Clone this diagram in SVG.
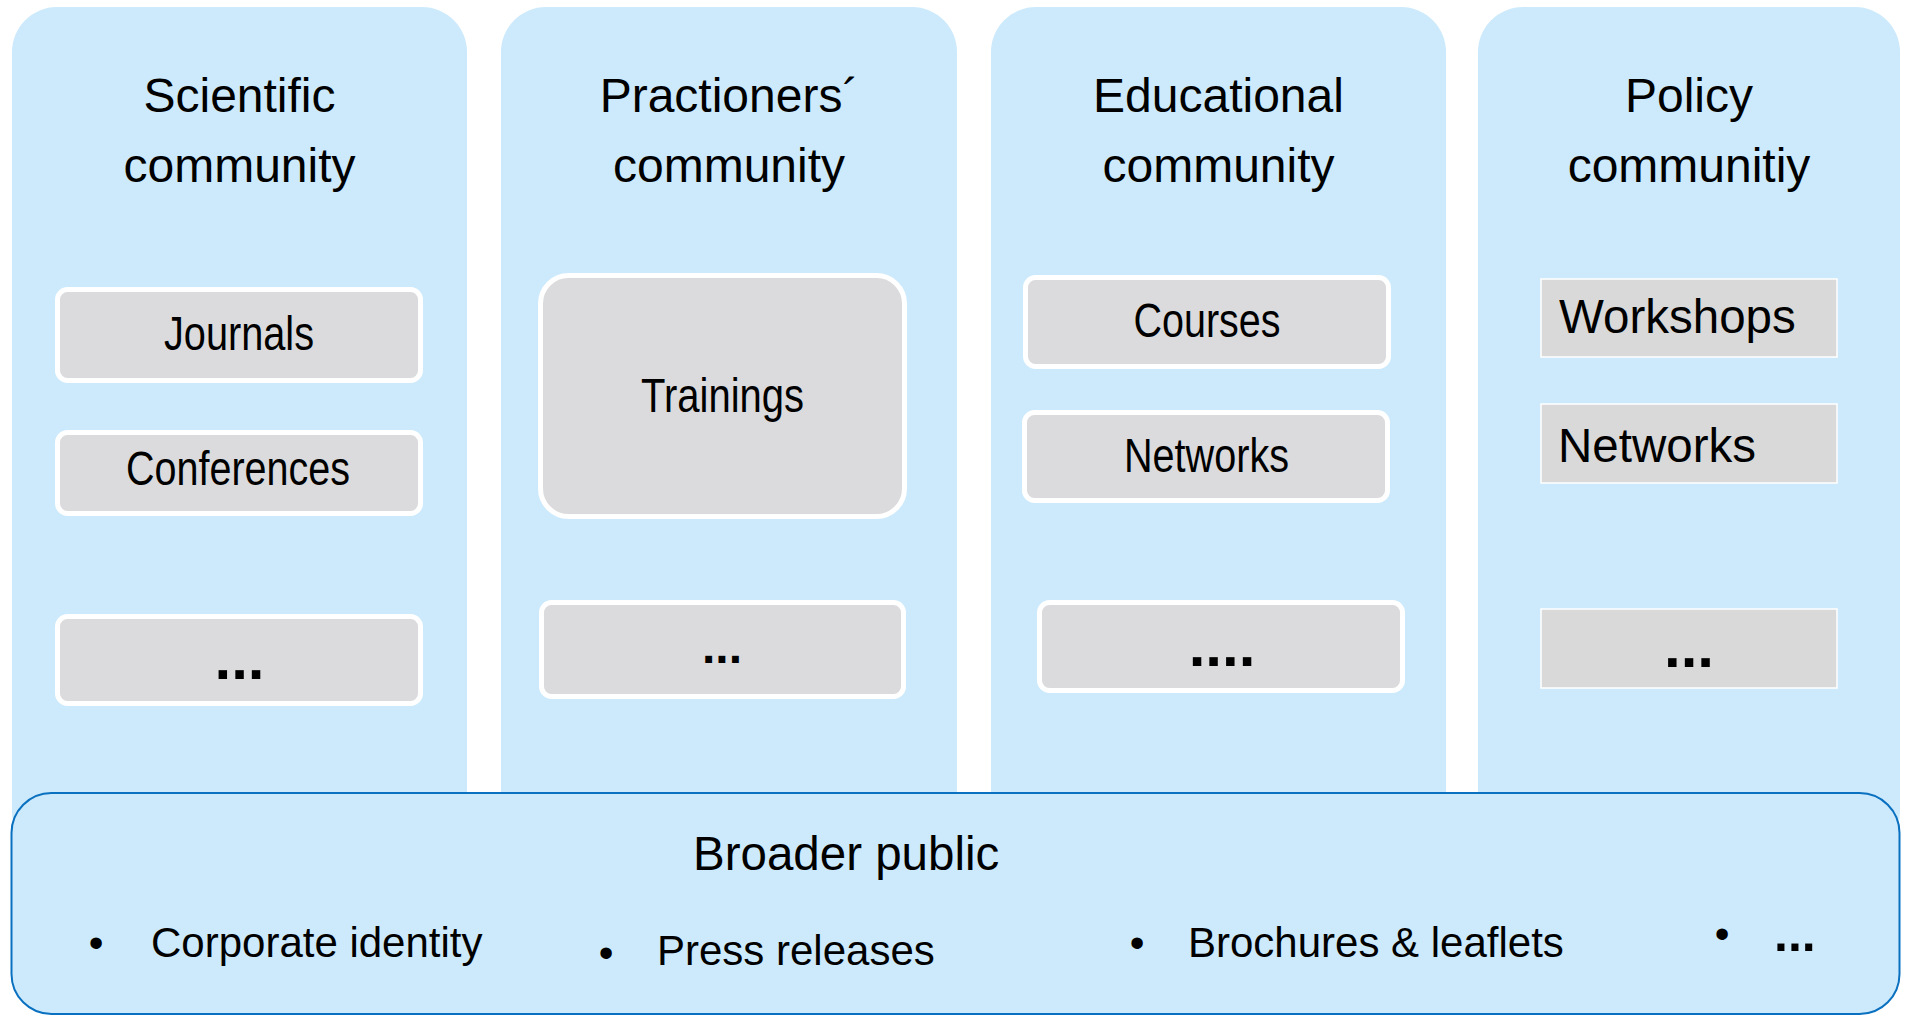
<svg xmlns="http://www.w3.org/2000/svg" width="1906" height="1016" viewBox="0 0 1906 1016">
  <style>
    .col { fill: #cceafc; }
    .item { fill: #dbdbdd; stroke: #ffffff; stroke-width: 5; }
    .plain { fill: #d9d9d9; stroke: #ffffff; stroke-width: 1.5; }
    .public { fill: #cceafc; stroke: #0a70c0; stroke-width: 2; }
    text { font-family: "Liberation Sans", Arial, sans-serif; fill: #000000; }
    .title { font-size: 48px; text-anchor: middle; }
    .lbl { font-size: 48px; text-anchor: middle; }
    .lbl-l { font-size: 47.5px; }
    .dots { font-size: 60px; font-weight: bold; text-anchor: middle; }
    .bul { font-size: 42px; }
    .dot { font-size: 42px; text-anchor: middle; }
  </style>

  <rect width="1906" height="1016" fill="#ffffff"/>

  <!-- Scientific community column -->
  <g id="scientific">
    <rect class="col" x="12" y="7" width="455" height="850" rx="45"/>
    <text class="title" x="239.5" y="112">Scientific</text>
    <text class="title" x="239.5" y="182">community</text>
    <g id="journals">
      <rect class="item" x="57.5" y="289.5" width="363" height="91" rx="10"/>
      <text class="lbl" x="239" y="350" textLength="150" lengthAdjust="spacingAndGlyphs">Journals</text>
    </g>
    <g id="conferences">
      <rect class="item" x="57.5" y="432.5" width="363" height="81" rx="10"/>
      <text class="lbl" x="238" y="485" textLength="224" lengthAdjust="spacingAndGlyphs">Conferences</text>
    </g>
    <g id="scientific-more">
      <rect class="item" x="57.5" y="616.5" width="363" height="87" rx="10"/>
      <text class="dots" x="239.5" y="679">...</text>
    </g>
  </g>

  <!-- Practitioners' community column -->
  <g id="practitioners">
    <rect class="col" x="501" y="7" width="456" height="850" rx="45"/>
    <text class="title" x="729" y="112">Practioners´</text>
    <text class="title" x="729" y="182">community</text>
    <g id="trainings">
      <rect class="item" x="540.5" y="275.5" width="364" height="241" rx="28"/>
      <text class="lbl" x="722.5" y="412" textLength="163" lengthAdjust="spacingAndGlyphs">Trainings</text>
    </g>
    <g id="practitioners-more">
      <rect class="item" x="541.5" y="602.5" width="362" height="94" rx="10"/>
      <text class="dots" style="font-size:48px" x="722" y="663">...</text>
    </g>
  </g>

  <!-- Educational community column -->
  <g id="educational">
    <rect class="col" x="991" y="7" width="455" height="850" rx="45"/>
    <text class="title" x="1218.5" y="112">Educational</text>
    <text class="title" x="1218.5" y="182">community</text>
    <g id="courses">
      <rect class="item" x="1025.5" y="277.5" width="363" height="89" rx="10"/>
      <text class="lbl" x="1207" y="337" textLength="147" lengthAdjust="spacingAndGlyphs">Courses</text>
    </g>
    <g id="edu-networks">
      <rect class="item" x="1024.5" y="412.5" width="363" height="88" rx="10"/>
      <text class="lbl" x="1206.5" y="472" textLength="165" lengthAdjust="spacingAndGlyphs">Networks</text>
    </g>
    <g id="educational-more">
      <rect class="item" x="1039.5" y="602.5" width="363" height="88" rx="10"/>
      <text class="dots" x="1222" y="666">....</text>
    </g>
  </g>

  <!-- Policy community column -->
  <g id="policy">
    <rect class="col" x="1478" y="7" width="422" height="850" rx="45"/>
    <text class="title" x="1689" y="112">Policy</text>
    <text class="title" x="1689" y="182">communitiy</text>
    <g id="workshops">
      <rect class="plain" x="1541" y="279" width="296" height="78"/>
      <text class="lbl-l" x="1559" y="333">Workshops</text>
    </g>
    <g id="policy-networks">
      <rect class="plain" x="1541" y="404" width="296" height="79"/>
      <text class="lbl-l" x="1558" y="462">Networks</text>
    </g>
    <g id="policy-more">
      <rect class="plain" x="1541" y="609" width="296" height="79"/>
      <text class="dots" x="1689" y="667">...</text>
    </g>
  </g>

  <!-- Broader public band -->
  <g id="broader-public">
    <rect class="public" x="11.5" y="793" width="1888" height="221" rx="40"/>
    <text style="font-size:47.5px" x="693" y="870">Broader public</text>
    <text class="dot" x="96" y="957">•</text>
    <text class="bul" x="151" y="957">Corporate identity</text>
    <text class="dot" x="606" y="967">•</text>
    <text class="bul" x="657" y="965">Press releases</text>
    <text class="dot" x="1137" y="957">•</text>
    <text class="bul" x="1188" y="957">Brochures &amp; leaflets</text>
    <text class="dot" x="1722" y="948">•</text>
    <text class="bul" style="font-size:50px;font-weight:bold" x="1774" y="951">...</text>
  </g>
</svg>
